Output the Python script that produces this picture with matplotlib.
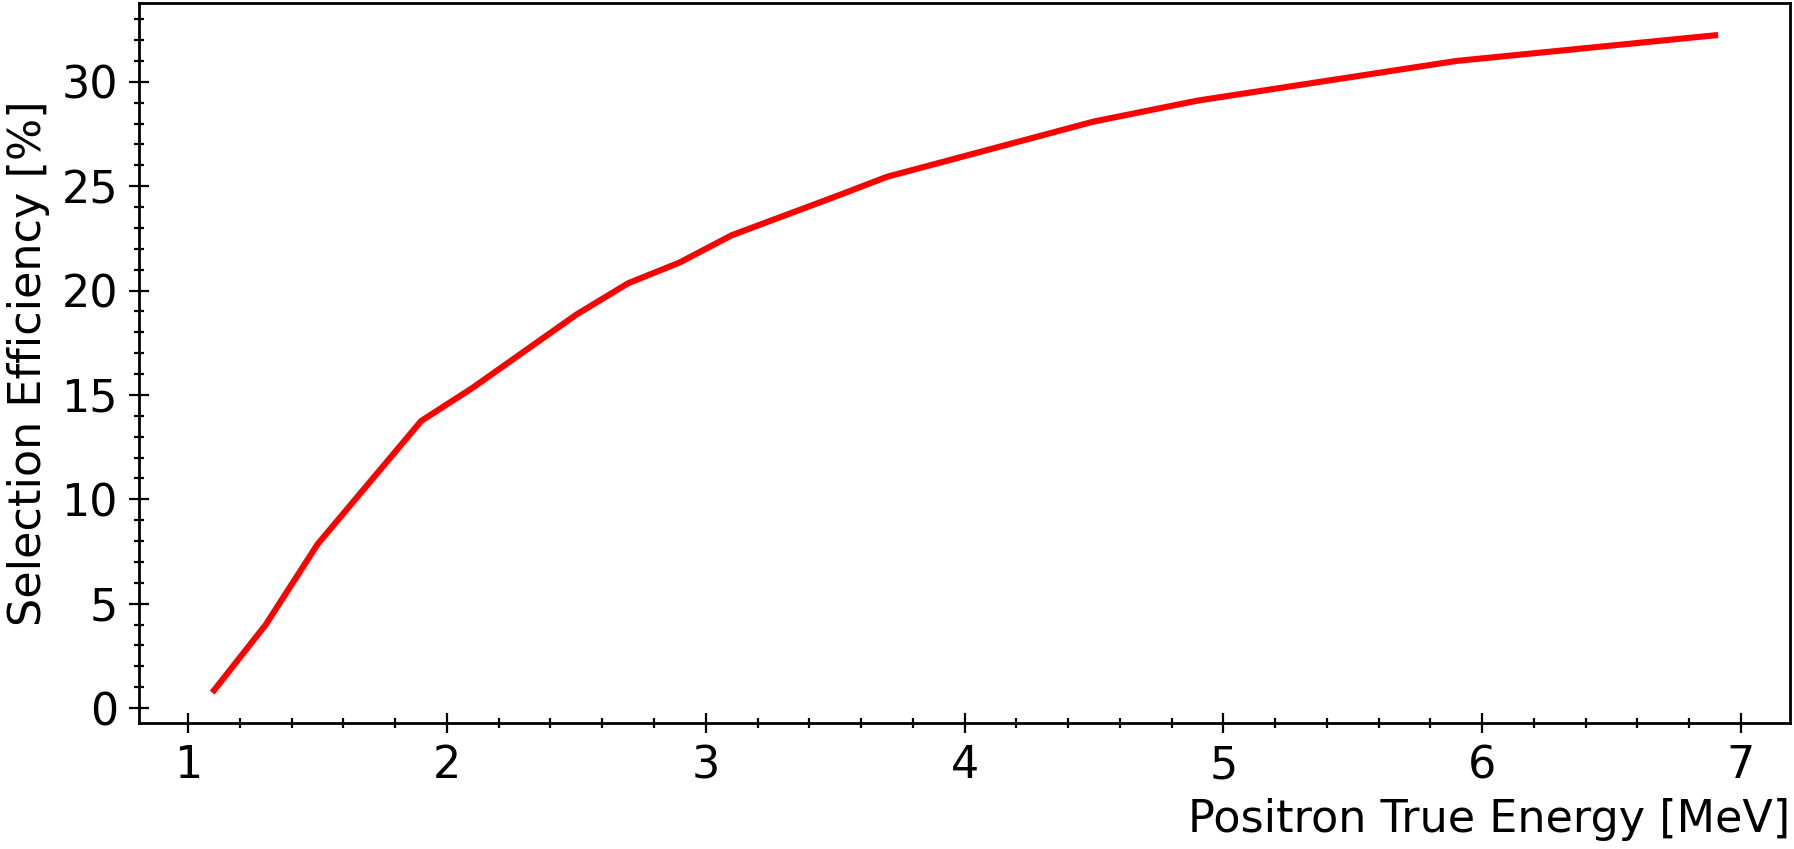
import matplotlib
matplotlib.use("Agg")
import matplotlib.pyplot as plt
from matplotlib.ticker import MultipleLocator

# ===== data =====
energy = [1.1, 1.3, 1.5, 1.9, 2.1, 2.5, 2.7, 2.9, 3.1, 3.5, 3.7, 4.5, 4.9, 5.9, 6.9]
efficiency = [0.85, 4.0, 7.85, 13.75, 15.35, 18.85, 20.35, 21.35, 22.65,
              24.5, 25.45, 28.1, 29.1, 31.0, 32.23]

x_label = "Positron True Energy [MeV]"
y_label = "Selection Efficiency [%]"

# ===== figure =====
fig = plt.figure(figsize=(8.97, 4.245), dpi=200)
ax = fig.add_axes([0.0775, 0.1484, 0.9203, 0.8486])

ax.plot(energy, efficiency, color="red", linewidth=2.2)

ax.xaxis.set_major_locator(MultipleLocator(1))
ax.xaxis.set_minor_locator(MultipleLocator(0.2))
ax.yaxis.set_major_locator(MultipleLocator(5))
ax.yaxis.set_minor_locator(MultipleLocator(1))

ax.tick_params(which="both", direction="inout", top=False, right=False,
               labelsize=16, width=0.8)
ax.tick_params(which="major", length=7.2, pad=4)
ax.tick_params(which="minor", length=3.4)
for sp in ax.spines.values():
    sp.set_linewidth(1.0)

ax.set_xlabel(x_label, fontsize=16, loc="right", labelpad=4)
ax.set_ylabel(y_label, fontsize=16, labelpad=4)

fig.savefig("out.png", dpi=200)
